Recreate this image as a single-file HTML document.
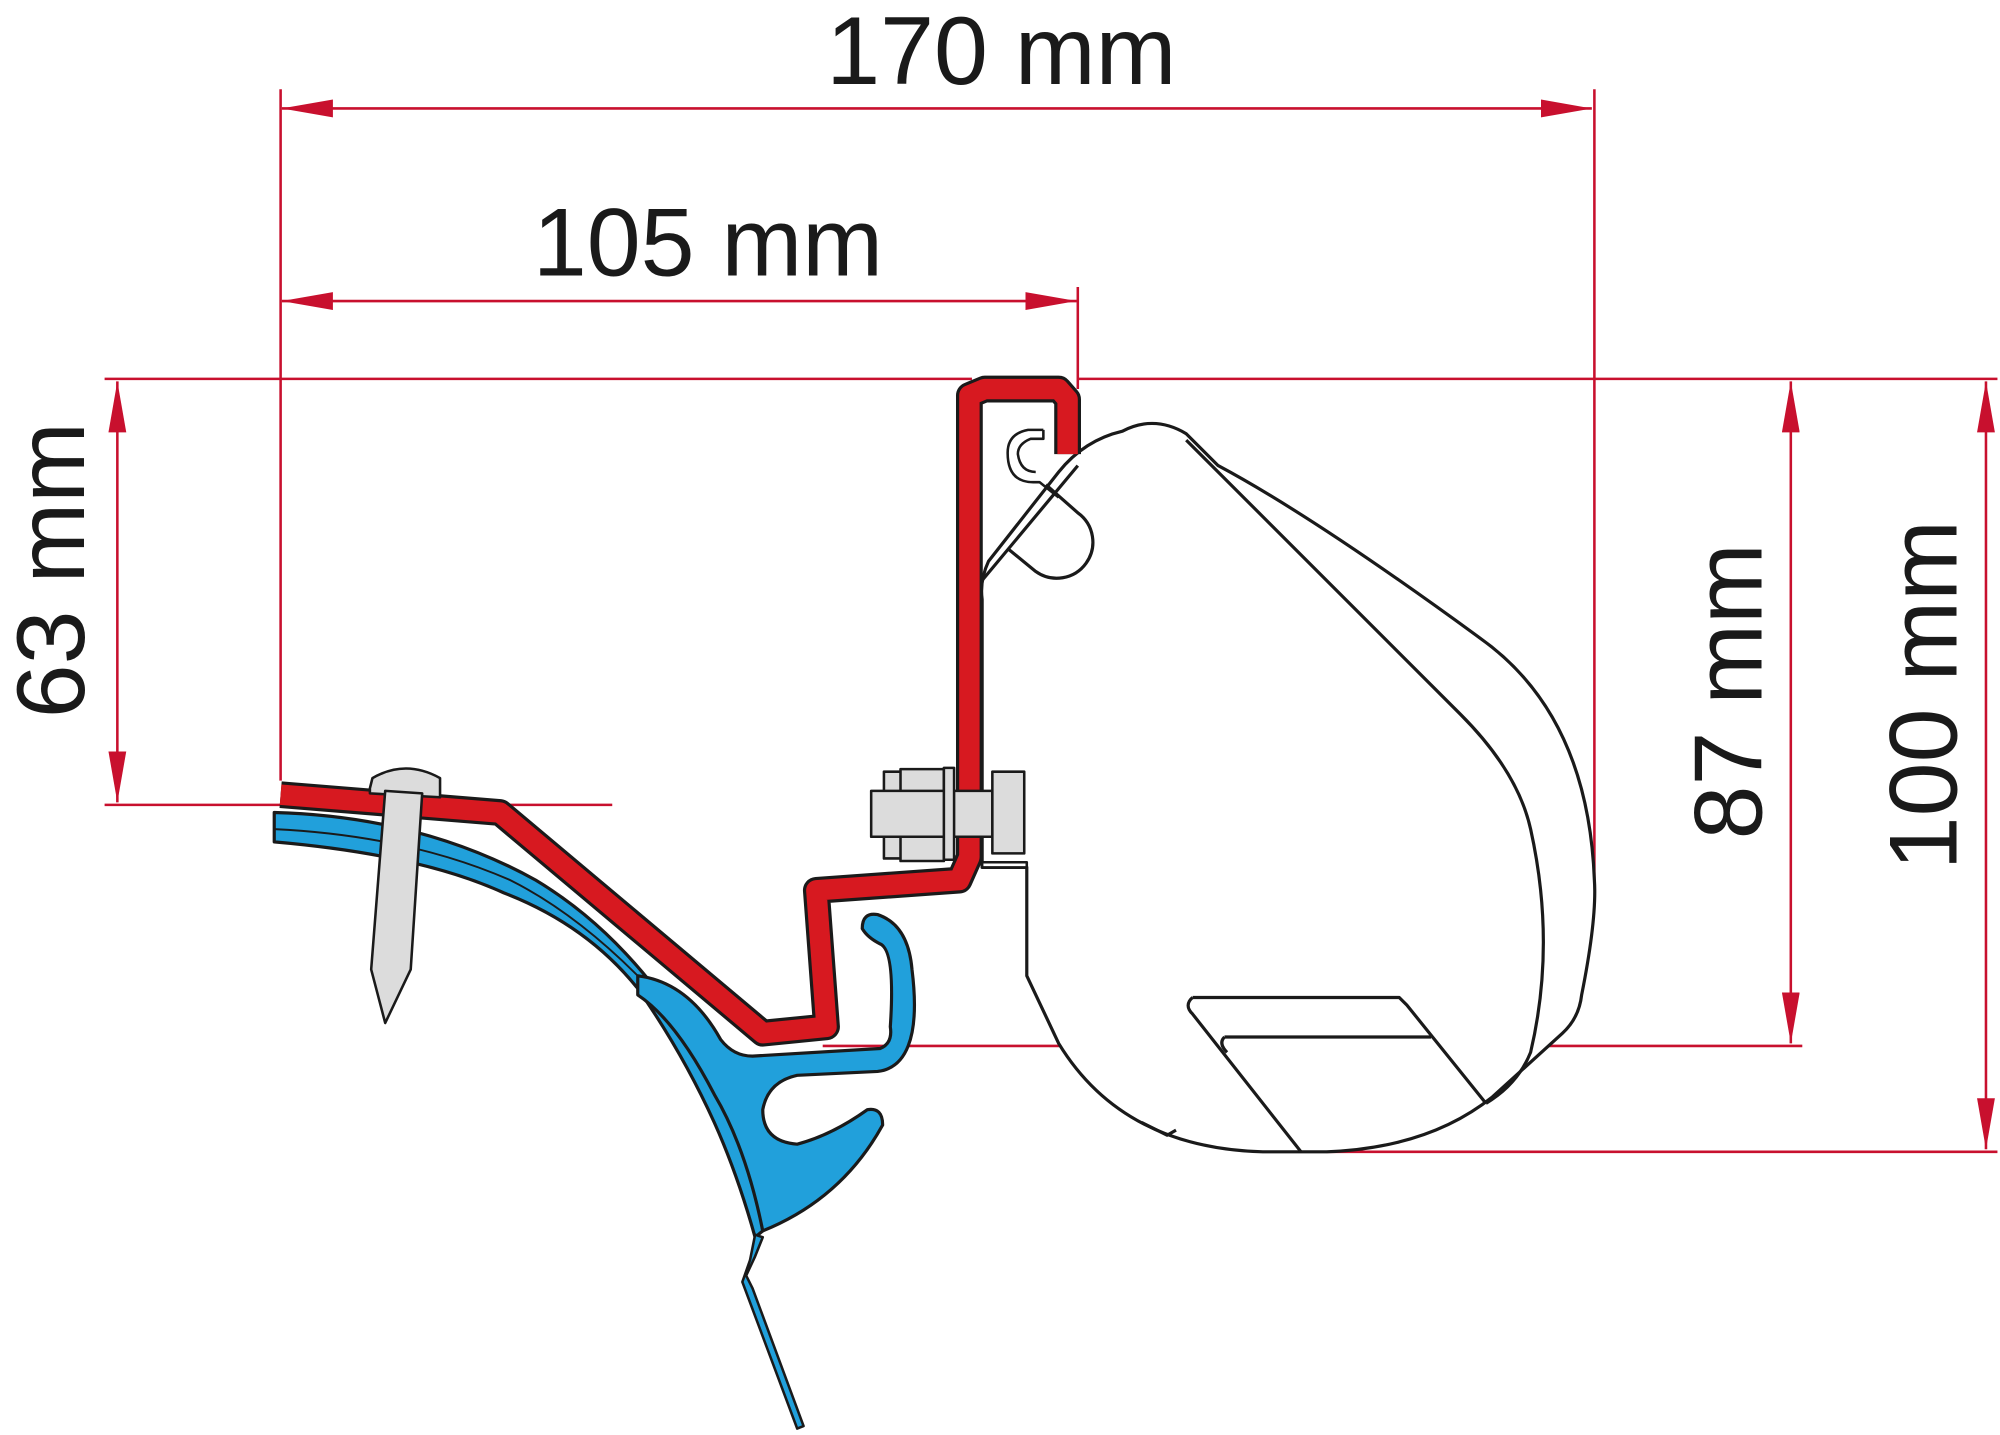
<!DOCTYPE html>
<html><head><meta charset="utf-8"><style>
html,body{margin:0;padding:0;background:#fff;}
svg{display:block;}
text{font-family:"Liberation Sans",sans-serif;fill:#1a1a1a;}
</style></head><body>
<svg width="2000" height="1435" viewBox="0 0 1568 1125" xmlns="http://www.w3.org/2000/svg">
<defs>
<marker id="a" viewBox="0 0 40 14" refX="40" refY="7" markerWidth="40" markerHeight="14" markerUnits="userSpaceOnUse" orient="auto-start-reverse">
<path d="M0,0 L40,7 L0,14 Z" fill="#c8102e"/></marker>
</defs>
<g stroke="#c8102e" stroke-width="2" fill="none">
<line x1="220" y1="70" x2="220" y2="612"/>
<line x1="1250" y1="70" x2="1250" y2="690"/>
<line x1="845" y1="225" x2="845" y2="305"/>
<line x1="82" y1="297" x2="762" y2="297"/>
<line x1="845" y1="297" x2="1566" y2="297"/>
<line x1="82" y1="631" x2="480" y2="631"/>
<line x1="645" y1="820" x2="1413" y2="820"/>
<line x1="1040" y1="903" x2="1566" y2="903"/>
<line x1="221" y1="85" x2="1248" y2="85" marker-start="url(#a)" marker-end="url(#a)"/>
<line x1="221" y1="236" x2="844" y2="236" marker-start="url(#a)" marker-end="url(#a)"/>
<line x1="92" y1="299" x2="92" y2="629" marker-start="url(#a)" marker-end="url(#a)"/>
<line x1="1404" y1="299" x2="1404" y2="818" marker-start="url(#a)" marker-end="url(#a)"/>
<line x1="1557" y1="299" x2="1557" y2="901" marker-start="url(#a)" marker-end="url(#a)"/>
</g>
<text x="785" y="66" font-size="76" text-anchor="middle">170 mm</text>
<text x="555" y="216" font-size="76" text-anchor="middle">105 mm</text>
<text font-size="76" text-anchor="middle" transform="translate(66,447) rotate(-90)">63 mm</text>
<text font-size="76" text-anchor="middle" transform="translate(1381,542) rotate(-90)">87 mm</text>
<text font-size="76" text-anchor="middle" transform="translate(1534,545) rotate(-90)">100 mm</text>

<g fill="#fff" stroke="#1a1a1a" stroke-width="2.5" stroke-linejoin="round">
<path d="M805,680 L805,765 L830,818 Q880,900 990,903 L1040,903 Q1120,900 1170,860 L1225,810 Q1238,798 1240,780 Q1252,720 1250,690 Q1245,560 1160,500 Q1030,405 955,365 L930,340 Q905,325 880,338 Q850,345 830,370 L775,440 Q768,455 770,470 L770,680 Z"/>
<path d="M930,345 L1145,560 Q1190,605 1200,650 Q1220,740 1200,825 Q1190,850 1165,865" fill="none"/>
<path d="M770,455 L845,365" fill="none"/>
<path d="M790,430 L812,448 A22 22 0 1 0 845,402 L820,380" fill="none"/>
<path d="M935,782 L1097,782 L1103,788 L1165,865" fill="none"/>
<path d="M935,782 Q928,788 935,795 L1020,903" fill="none"/>
<path d="M960,813 L1122,813" fill="none"/>
<path d="M960,813 Q955,818 962,825" fill="none"/>
<path d="M895,880 L915,890 L922,886" fill="none"/>
<path d="M818,337 L806,337 Q790,340 790,355 Q790,378 810,378 L815,378 L830,390" fill="none" stroke-width="2"/>
<path d="M818,337 L818,344 L808,344 Q798,348 798,356 Q800,370 812,370" fill="none" stroke-width="2"/>
</g>

<g stroke="#1a1a1a" stroke-width="2.5" stroke-linejoin="round">
<path d="M215,637 Q330,640 420,690 Q470,720 510,770 Q545,810 575,870 Q590,910 598,965 L592,970 Q578,920 560,880 Q535,825 500,775 Q460,725 395,700 Q330,670 215,660 Z" fill="#21a0db"/>
<path d="M215,650 Q320,655 400,690 Q450,715 500,765" fill="none" stroke-width="1.5"/>
<path d="M500,765 Q540,770 565,815 Q575,828 590,828 L690,822 Q700,818 698,805 Q702,745 690,740 Q680,735 676,728 Q676,715 688,717 Q712,725 715,760 Q720,800 712,820 Q705,838 688,840 L625,843 Q602,848 598,870 Q598,895 625,897 Q652,890 680,870 Q692,868 692,882 Q660,940 598,965 Q585,900 560,858 Q530,800 500,780 Z" fill="#21a0db"/>
<path d="M592,968 L598,970 L592,985 L585,1000 L590,1010 L630,1118 L625,1120 L582,1005 L588,988 Z" fill="#21a0db" stroke-width="2"/>
</g>

<g fill="none" stroke-linejoin="round" stroke-linecap="butt">
<polyline points="220,623 392,637 598,810 648,805 640,698 752,690 760,672 760,310 772,305 830,305 837,313 837,356" stroke="#1a1a1a" stroke-width="21"/>
<polyline points="220,623 392,637 598,810 648,805 640,698 752,690 760,672 760,310 772,305 830,305 837,313 837,356" stroke="#d71920" stroke-width="16"/>
</g>

<g fill="#dcdcdc" stroke="#1a1a1a" stroke-width="2" stroke-linejoin="round">
<path d="M290,618 L292,610 Q318,595 345,610 L345,625 L290,622 Z"/>
<path d="M302,620 L331,622 L322,760 L302,802 L291,760 Z"/>
<rect x="693" y="605" width="50" height="68"/>
<rect x="706" y="603" width="34" height="72"/>
<rect x="683" y="620" width="95" height="36"/>
<rect x="740" y="602" width="8" height="72"/>
<rect x="778" y="605" width="25" height="64"/>
<path d="M770,676 L805,676 L805,680 L770,680 Z" fill="#fff"/>
</g>
</svg>
</body></html>
